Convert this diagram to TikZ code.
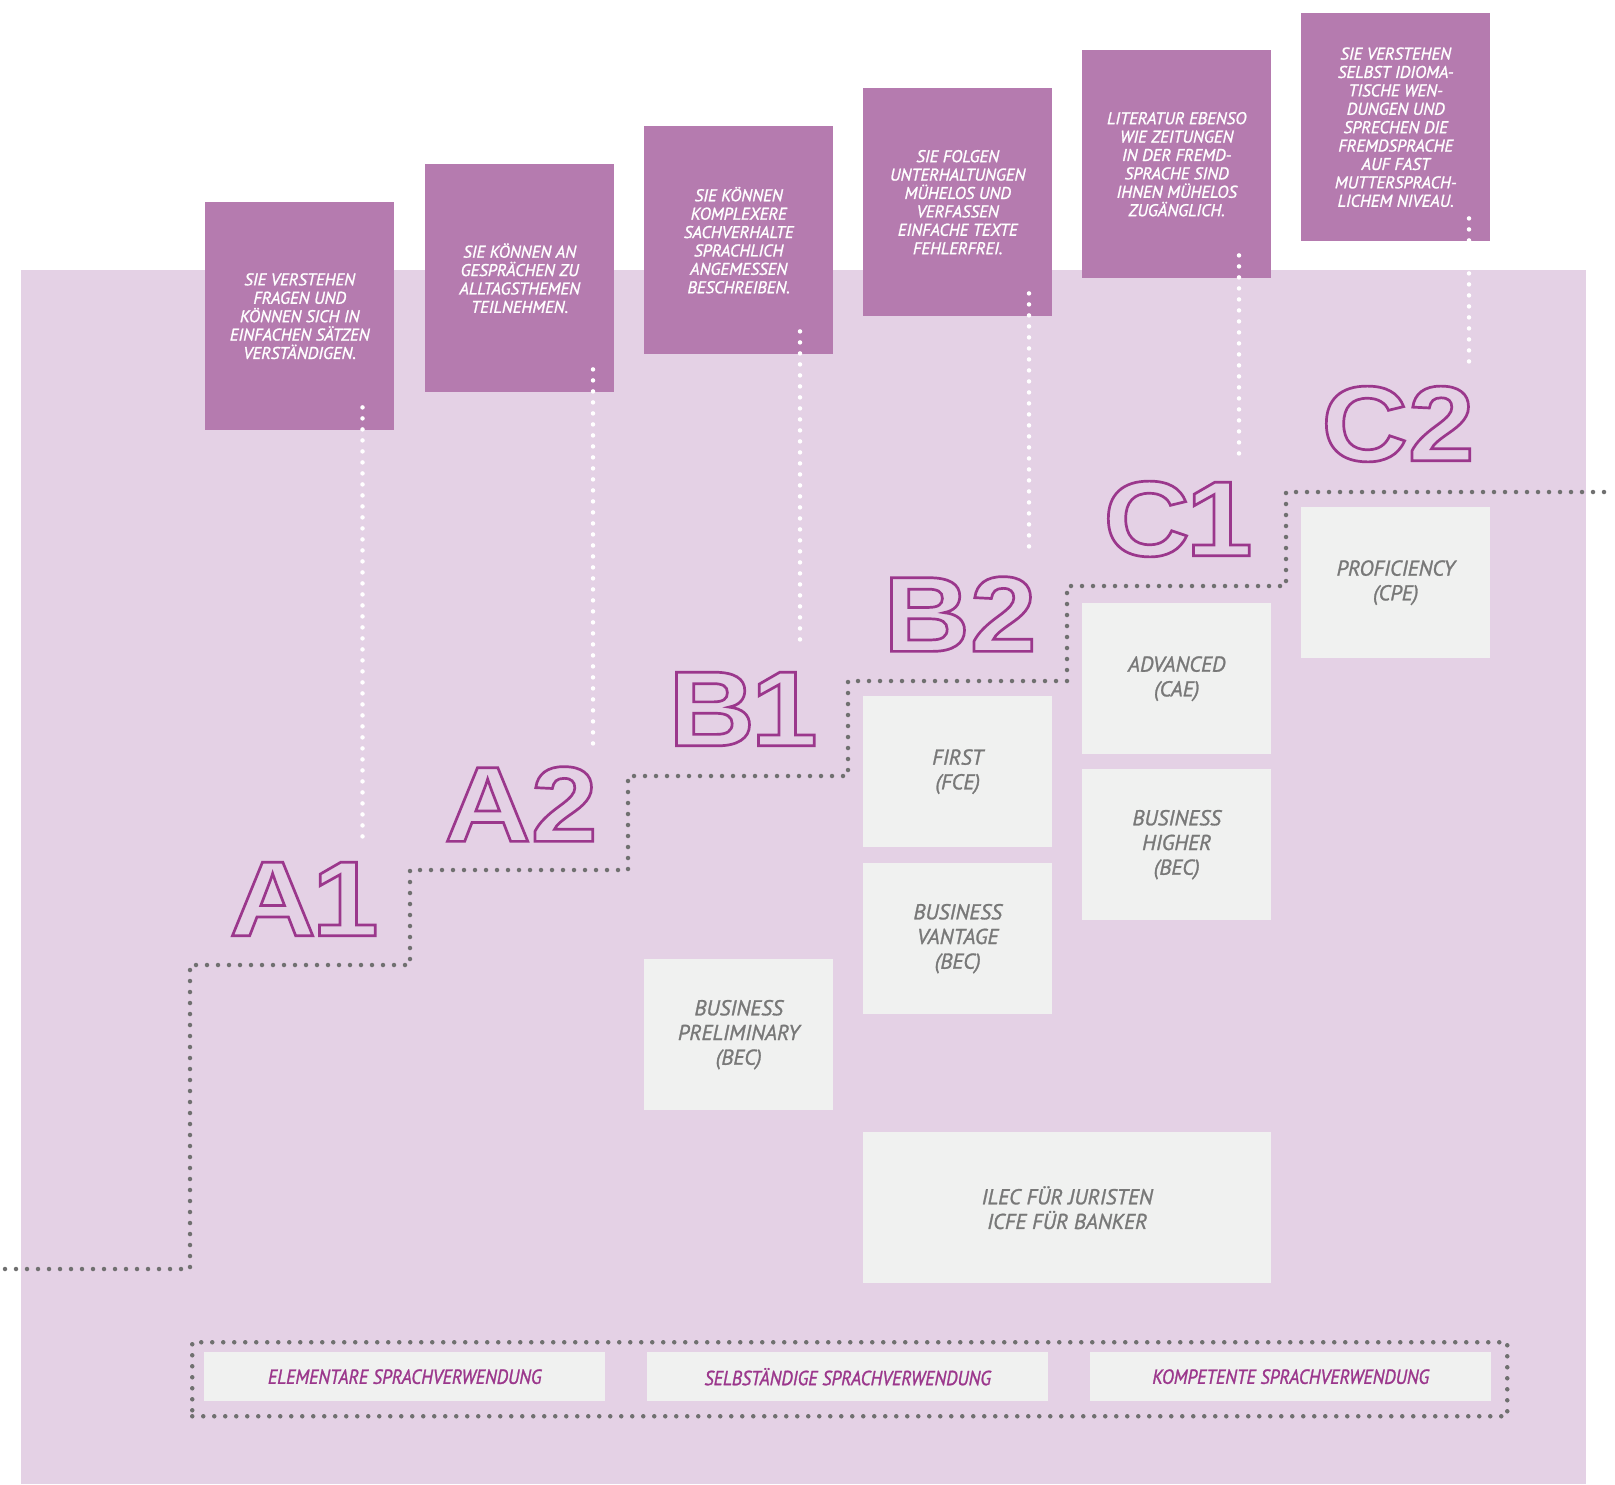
\documentclass[tikz,border=0pt]{standalone}
\usepackage{fontspec}
\setmainfont{PT Sans}[FakeBold=1.2]
\newfontfamily\lvlfont{Liberation Sans}[FakeStretch=1.12]
\newfontfamily\condfont{PT Sans}[FakeStretch=0.89,FakeBold=1.2]
\definecolor{bglilac}{RGB}{228,209,229}
\definecolor{descpurple}{RGB}{181,123,175}
\definecolor{examgray}{RGB}{240,241,240}
\definecolor{examtext}{RGB}{120,120,120}
\definecolor{lvlpurple}{RGB}{155,55,140}
\definecolor{dotgray}{RGB}{112,112,112}
% outlined letters (text render mode 1)
\newcommand{\outlined}[1]{\special{pdf:literal direct 1 Tr 2.7 w}#1\special{pdf:literal direct 0 Tr}}

\begin{document}
\begin{tikzpicture}[x=1pt,y=-1pt,
    desc/.style={fill=descpurple,text=white,minimum width=189,minimum height=228,anchor=north west,inner sep=0pt,align=center,font=\itshape\fontsize{17}{18.4}\selectfont},
    exam/.style={fill=examgray,text=examtext,minimum width=189,minimum height=151,anchor=north west,inner sep=0pt,align=center,font=\itshape\fontsize{21.5}{24.7}\selectfont},
    usage/.style={fill=examgray,text=lvlpurple,minimum width=401,minimum height=49,anchor=north west,inner sep=0pt,font=\condfont\itshape\fontsize{20.4}{22}\selectfont},
    lvl/.style={text=lvlpurple,inner sep=0pt,font=\lvlfont\bfseries\fontsize{107}{107}\selectfont},
    graydots/.style={draw=dotgray,line width=4.5pt,line cap=round,dash pattern=on 0pt off 11pt},
    whitedots/.style={draw=white,line width=4.5pt,line cap=round,dash pattern=on 0pt off 11pt}]
    \useasboundingbox (0,0) rectangle (1615,1484);
    \fill[bglilac] (21,270) rectangle (1586,1484);

    % descriptions
    \node[desc] (descA1) at (205,202) {SIE VERSTEHEN\\FRAGEN UND\\KÖNNEN SICH IN\\EINFACHEN SÄTZEN\\VERSTÄNDIGEN.};
    \node[desc] (descA2) at (425,164) {SIE KÖNNEN AN\\GESPRÄCHEN ZU\\ALLTAGSTHEMEN\\TEILNEHMEN.};
    \node[desc] (descB1) at (644,126) {SIE KÖNNEN\\KOMPLEXERE\\SACHVERHALTE\\SPRACHLICH\\ANGEMESSEN\\BESCHREIBEN.};
    \node[desc] (descB2) at (863,88) {SIE FOLGEN\\UNTERHALTUNGEN\\MÜHELOS UND\\VERFASSEN\\EINFACHE TEXTE\\FEHLERFREI.};
    \node[desc] (descC1) at (1082,50) {LITERATUR EBENSO\\WIE ZEITUNGEN\\IN DER FREMD-\\SPRACHE SIND\\IHNEN MÜHELOS\\ZUGÄNGLICH.};
    \node[desc] (descC2) at (1301,13) {SIE VERSTEHEN\\SELBST IDIOMA-\\TISCHE WEN-\\DUNGEN UND\\SPRECHEN DIE\\FREMDSPRACHE\\AUF FAST\\MUTTERSPRACH-\\LICHEM NIVEAU.};

    % exams
    \node[exam] (cpe) at (1301,507) {PROFICIENCY\\(CPE)};
    \node[exam] (cae) at (1082,603) {ADVANCED\\(CAE)};
    \node[exam] (bech) at (1082,769) {BUSINESS\\HIGHER\\(BEC)};
    \node[exam] (fce) at (863,696) {FIRST\\(FCE)};
    \node[exam] (becv) at (863,863) {BUSINESS\\VANTAGE\\(BEC)};
    \node[exam] (becp) at (644,959) {BUSINESS\\PRELIMINARY\\(BEC)};
    \node[exam,minimum width=408] (ilec) at (863,1132) {ILEC FÜR JURISTEN\\ICFE FÜR BANKER};

    % usage
    \node[graydots,minimum width=1315,minimum height=74,anchor=north west] (usageframe) at (190,1340) {};
    \node[usage] (elem) at (204,1352) {ELEMENTARE SPRACHVERWENDUNG};
    \node[usage] (selb) at (647,1352) {SELBSTÄNDIGE SPRACHVERWENDUNG};
    \node[usage] (komp) at (1090,1352) {KOMPETENTE SPRACHVERWENDUNG};

    % stairs
    \coordinate (start) at (5,1269);
    \coordinate (stepA1) at (190,965);
    \coordinate (stepA2) at (410,870);
    \coordinate (stepB1) at (628,776);
    \coordinate (stepB2) at (848,681);
    \coordinate (stepC1) at (1067,586);
    \coordinate (stepC2) at (1286,492);
    \coordinate (end) at (1615,492);
    \draw[graydots] (start) -| (stepA1) -| (stepA2) -| (stepB1) -| (stepB2) -| (stepC1) -| (stepC2) -- (end);

    % drops
    \coordinate (dropA1) at (362.5,840);
    \coordinate (dropA2) at (593,744);
    \coordinate (dropB1) at (800,649);
    \coordinate (dropB2) at (1029,556);
    \coordinate (dropC1) at (1239,460);
    \coordinate (dropC2) at (1469,366);
    \draw[whitedots] ([yshift=23pt]descA1.south -| dropA1) -- (dropA1);
    \draw[whitedots] ([yshift=23pt]descA2.south -| dropA2) -- (dropA2);
    \draw[whitedots] ([yshift=23pt]descB1.south -| dropB1) -- (dropB1);
    \draw[whitedots] ([yshift=23pt]descB2.south -| dropB2) -- (dropB2);
    \draw[whitedots] ([yshift=23pt]descC1.south -| dropC1) -- (dropC1);
    \draw[whitedots] ([yshift=23pt]descC2.south -| dropC2) -- (dropC2);

    % levels
    \node[lvl] (lvlA1) at (304,899) {\outlined{A\kern-4pt1}};
    \node[lvl] (lvlA2) at (521,804) {\outlined{A2}};
    \node[lvl] (lvlB1) at (743,709) {\outlined{B\kern-4pt1}};
    \node[lvl] (lvlB2) at (960,614) {\outlined{B2}};
    \node[lvl] (lvlC1) at (1178,519) {\outlined{C\kern-4pt1}};
    \node[lvl] (lvlC2) at (1398,424) {\outlined{C2}};
\end{tikzpicture}
\end{document}
